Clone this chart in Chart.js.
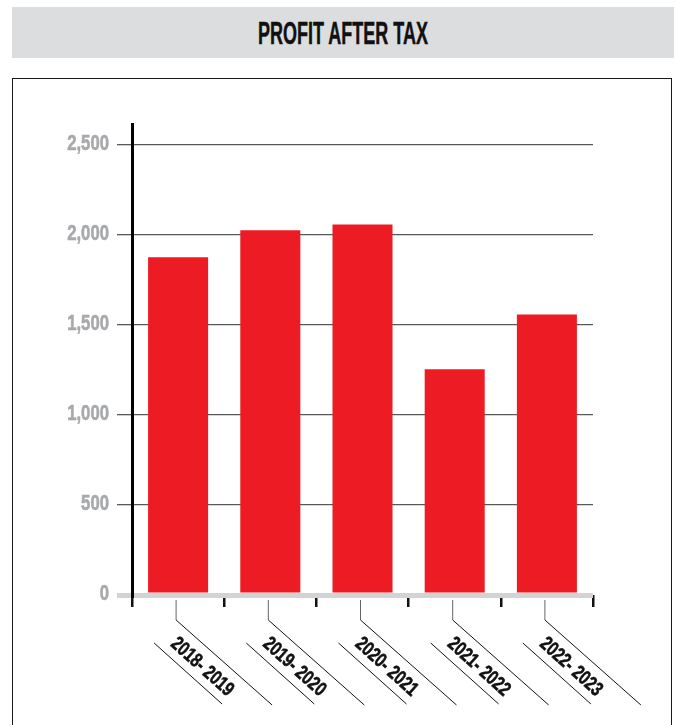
<!DOCTYPE html>
<html>
<head>
<meta charset="utf-8">
<title>Profit After Tax</title>
<script src="https://cdn.jsdelivr.net/npm/chart.js@4.4.1/dist/chart.umd.min.js"></script>
<style>
    html, body {
        margin: 0;
        padding: 0;
        width: 676px;
        height: 725px;
        overflow: hidden;
        background: #ffffff;
    }
    .title-bar {
        position: absolute;
        left: 12px;
        top: 7px;
        width: 662px;
        height: 51px;
        background: #dcdddf;
    }
    .title-bar span {
        position: absolute;
        left: 0;
        right: 0;
        top: 11.6px;
        text-align: center;
        font-family: 'Liberation Sans', Arial, sans-serif;
        font-weight: bold;
        font-size: 31px;
        line-height: 30px;
        color: #111111;
        -webkit-text-stroke: 0.5px #111111;
        transform: scaleX(0.58);
    }
    .frame {
        position: absolute;
        left: 12px;
        top: 78px;
        width: 658px;
        height: 700px;
        border: 1.5px solid #1a1a1a;
    }
    #chart {
        position: absolute;
        left: 0;
        top: 0;
    }
</style>
</head>
<body>
<div class="title-bar"><span>PROFIT AFTER TAX</span></div>
<div class="frame"></div>
<canvas id="chart" width="676" height="725"></canvas>

<script>
// Financial years and profit after tax figures
const years = ['2018- 2019', '2019- 2020', '2020- 2021', '2021- 2022', '2022- 2023'];
const profitAfterTax = [1876, 2026, 2059, 1254, 1559];
const yTickValues = [0, 500, 1000, 1500, 2000, 2500];

const labelFont = "'Liberation Sans', Arial, sans-serif";

// Narrow, tall lettering: squeeze the text horizontally and thicken it a little
function drawNarrowText(ctx, text, x, y, squeeze) {
    ctx.save();
    ctx.translate(x, y);
    ctx.scale(squeeze, 1);
    ctx.fillText(text, 0, 0);
    ctx.strokeText(text, 0, 0);
    ctx.restore();
}

// Value labels on the left of the y axis
const valueLabels = {
    id: 'valueLabels',
    afterDraw(chart) {
        const ctx = chart.ctx;
        const yScale = chart.scales.y;
        ctx.save();
        ctx.font = 'bold 22px ' + labelFont;
        ctx.fillStyle = '#a7a9ac';
        ctx.strokeStyle = '#a7a9ac';
        ctx.lineWidth = 0.6;
        ctx.textAlign = 'right';
        ctx.textBaseline = 'alphabetic';
        yTickValues.forEach(v => {
            const y = yScale.getPixelForValue(v);
            drawNarrowText(ctx, v.toLocaleString('en-US'), 109, y + 4.5, 0.76);
        });
        ctx.restore();
    }
};

// Slanted year labels with their leader lines under each bar
const yearLabels = {
    id: 'yearLabels',
    afterDraw(chart) {
        const ctx = chart.ctx;
        const xScale = chart.scales.x;
        const base = chart.chartArea.bottom;
        const angle = 42 * Math.PI / 180;

        years.forEach((year, i) => {
            const cx = xScale.getPixelForValue(i) - 2;

            ctx.save();
            ctx.lineWidth = 1;

            // short drop from the axis, then the long slant
            ctx.strokeStyle = '#666666';
            ctx.beginPath();
            ctx.moveTo(cx, base + 5);
            ctx.lineTo(cx, base + 25);
            ctx.stroke();

            ctx.strokeStyle = '#111111';
            ctx.beginPath();
            ctx.moveTo(cx, base + 25);
            ctx.lineTo(cx + 96, base + 110);
            ctx.stroke();

            // the parallel line below the text
            ctx.beginPath();
            ctx.moveTo(cx - 22, base + 48);
            ctx.lineTo(cx + 46, base + 109);
            ctx.stroke();

            ctx.translate(cx + 26, base + 72);
            ctx.rotate(angle);
            ctx.font = 'bold 20px ' + labelFont;
            ctx.fillStyle = '#111111';
            ctx.strokeStyle = '#111111';
            ctx.lineWidth = 0.6;
            ctx.textAlign = 'center';
            ctx.textBaseline = 'middle';
            drawNarrowText(ctx, year, 0, 0, 0.76);
            ctx.restore();
        });
    }
};

const ctx = document.getElementById('chart').getContext('2d');
new Chart(ctx, {
    type: 'bar',
    data: {
        labels: years,
        datasets: [{
            label: 'Profit After Tax',
            data: profitAfterTax,
            backgroundColor: '#ed1c24',
            borderWidth: 0,
            barPercentage: 0.651,
            categoryPercentage: 1
        }]
    },
    options: {
        responsive: false,
        animation: false,
        layout: {
            padding: { top: 124, right: 83, bottom: 0, left: 0 }
        },
        plugins: {
            legend: { display: false },
            tooltip: { enabled: false }
        },
        scales: {
            x: {
                afterFit(scale) {
                    scale.height = 130;
                },
                border: { display: false },
                grid: {
                    offset: true,
                    drawOnChartArea: false,
                    drawTicks: true,
                    tickLength: 12,
                    color: '#111111',
                    lineWidth: 2.5
                },
                ticks: { display: false }
            },
            y: {
                min: 0,
                max: 2617,
                afterFit(scale) {
                    scale.width = 132;
                },
                afterBuildTicks(scale) {
                    scale.ticks = yTickValues.map(v => ({ value: v }));
                },
                border: {
                    display: true,
                    color: '#000000',
                    width: 3
                },
                grid: {
                    tickLength: 15,
                    color: c => (c.tick && c.tick.value === 0) ? '#d1d3d4' : '#58595b',
                    lineWidth: c => (c.tick && c.tick.value === 0) ? 5 : 1.3
                },
                ticks: { display: false }
            }
        }
    },
    plugins: [valueLabels, yearLabels]
});
</script>
</body>
</html>
